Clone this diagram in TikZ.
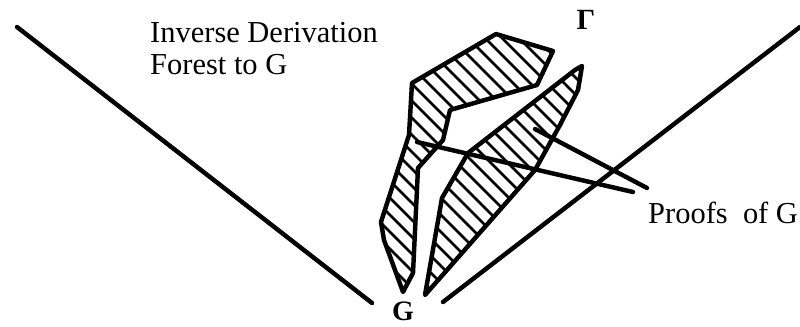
\documentclass[tikz,border=0pt]{standalone}
\usepackage{fontspec}
\setmainfont{Liberation Serif}
\usetikzlibrary{positioning}

\begin{document}
\begin{tikzpicture}[x=0.03cm,y=-0.03cm,
  heavy/.style={line width=3.8pt,line join=round,line cap=round},
  hatch/.style={line width=2.4pt},
  every node/.style={font=\fontsize{26}{26.5}\selectfont,inner sep=0pt}]
\useasboundingbox (0,0) rectangle (800,326);
\def\forestshape{(403,292) -- (384,240) -- (381,222) -- (409,135) -- (412,83) -- (496,34) -- (553,51) -- (537,85) -- (450,110) -- (443,140) -- (418,168) -- (413,273) -- cycle}
\def\proofshape{(425,295) -- (442,198) -- (468,153) -- (575,70) -- (582,66) -- (578,90) -- (560,125) -- (535,170) -- cycle}
\node[align=left,anchor=base west] (forest) at (150,74) {Inverse Derivation\\Forest to G};
\node[anchor=base west] (proofs) at (648,223) {Proofs~~of G};
\node[font=\fontsize{25}{25}\selectfont\bfseries] (gamma) at (586,20) {Γ};
\node[font=\fontsize{24}{24}\selectfont\bfseries] (goal) at (403,311) {G};
\coordinate (left top) at (17,27);
\coordinate (left end) at (372,303);
\coordinate (right end) at (443,302);
\coordinate (right top) at (800,27);
\coordinate (a1) at (417,142);
\coordinate (a2) at (535,129);
\coordinate (b1) at (633,192);
\coordinate (b2) at (647,188);
% the two hatched regions
\begin{scope}
\clip \forestshape;
\foreach \k in {-420,-403,...,800} \draw[hatch] (\k,0) -- ++(420,420);
\end{scope}
\begin{scope}
\clip \proofshape;
\foreach \k in {-420,-403,...,800} \draw[hatch] (\k,0) -- ++(420,420);
\end{scope}
\draw[heavy] \forestshape;
\draw[heavy] \proofshape;
% the V and the pointers
\draw[heavy] (left top) -- (left end);
\draw[heavy] (right end) -- (right top);
\draw[heavy] (b1) -- (a1);
\draw[heavy] (b2) -- (a2);
\end{tikzpicture}
\end{document}
